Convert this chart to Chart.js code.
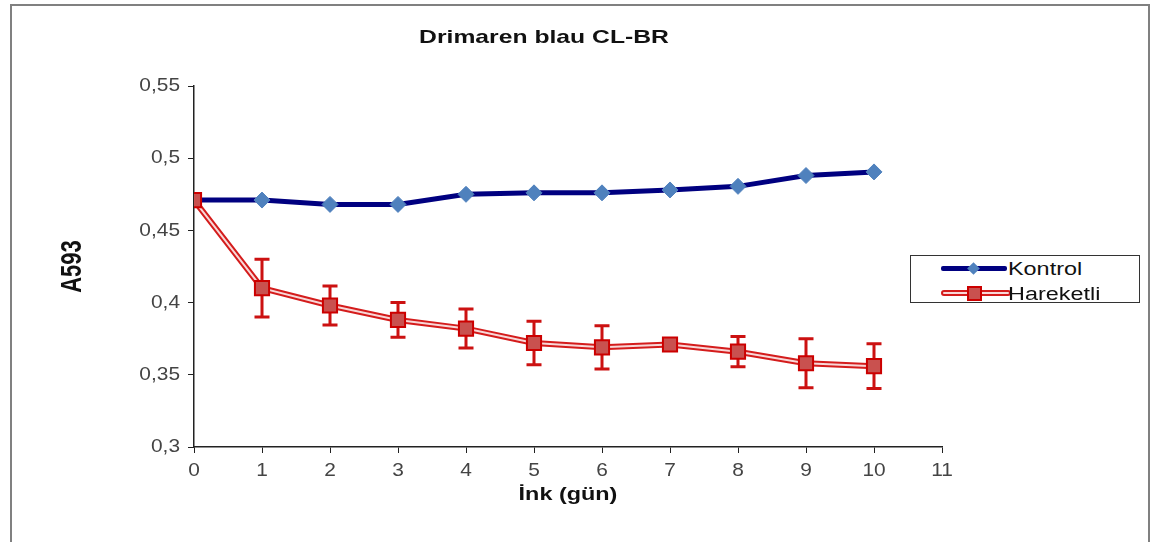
<!DOCTYPE html>
<html>
<head>
<meta charset="utf-8">
<script src="https://cdn.jsdelivr.net/npm/chart.js@4.4.1/dist/chart.umd.min.js"></script>
<style>
  html, body { margin: 0; padding: 0; background: #fff; overflow: hidden; }
  #frame { position: absolute; left: 10px; top: 4px; width: 1136px; height: 600px; border: 2px solid #808080; }
  #wrap { position: absolute; left: 0; top: 0; width: 1154px; height: 542px; }
  #title { position: absolute; left: 344px; width: 400px; top: 26px; text-align: center;
    font: bold 19px "Liberation Sans", Arial, sans-serif; color: #111; transform: scaleX(1.3); }
  #legend { position: absolute; left: 910px; top: 255px; width: 228px; height: 46px; border: 1.5px solid #333; background: #fff; }
  .row { position: absolute; left: 0; width: 100%; height: 24px; }
  .row span { position: absolute; left: 97px; top: 1px; font: 18px "Liberation Sans", Arial, sans-serif; color: #111;
    transform: scaleX(1.3); transform-origin: left center; line-height: 22px; }
  .ln { position: absolute; left: 30px; width: 66px; }
  .k .ln { top: 9px; height: 5px; background: #000080; border-radius: 2px; }
  .k .mk { position: absolute; left: 58px; top: 7px; width: 9px; height: 9px; background: #4f81bd; transform: rotate(45deg); }
  .h .ln { top: 8px; height: 2px; background: #f8d8d8; border: 2px solid #d41c1c; border-radius: 3px; }
  .h .mk { position: absolute; left: 56px; top: 4px; width: 11px; height: 11px; background: #c9514f; border: 2px solid #cc0000; }
</style>
</head>
<body>
<div id="frame"></div>
<div id="wrap"><canvas id="chart" width="1154" height="542"></canvas></div>
<div id="title">Drimaren blau CL-BR</div>
<div id="legend">
  <div class="row k" style="top:1px"><div class="ln"></div><div class="mk"></div><span>Kontrol</span></div>
  <div class="row h" style="top:26px"><div class="ln"></div><div class="mk"></div><span>Hareketli</span></div>
</div>
<script>
// values
const days = [0, 1, 2, 3, 4, 5, 6, 7, 8, 9, 10]
const kontrol = [0.471, 0.471, 0.468, 0.468, 0.475, 0.476, 0.476, 0.478, 0.4805, 0.488, 0.4905]
const hareketli = [0.471, 0.410, 0.398, 0.388, 0.382, 0.372, 0.369, 0.371, 0.366, 0.358, 0.356]
const hareketliErr = [0, 0.020, 0.0135, 0.012, 0.0135, 0.015, 0.015, 0.003, 0.0105, 0.017, 0.0155]
const xTickLabels = ['0', '1', '2', '3', '4', '5', '6', '7', '8', '9', '10', '11']
const yTickLabels = ['0,3', '0,35', '0,4', '0,45', '0,5', '0,55']

const pts = arr => arr.map((v, i) => ({ x: days[i], y: v }))

// the text in the source is drawn wider than normal, stretch canvas text horizontally
const wideText = {
  id: 'wideText',
  beforeDraw(chart) {
    const ctx = chart.ctx
    if (ctx._wide) return
    const fill = ctx.fillText.bind(ctx)
    ctx.fillText = function (t, x, y) {
      const k = ctx.font.indexOf('bold') < 0 ? 1.1 : 1.3
      const m = ctx.getTransform()
      const p = m.transformPoint(new DOMPoint(x, y))
      ctx.setTransform(new DOMMatrix().translate(p.x, p.y).scale(k, 1).translate(-p.x, -p.y).multiply(m))
      fill(t, x, y)
      ctx.setTransform(m)
    }
    ctx._wide = true
  }
}

// vertical error bars for Hareketli, drawn before the square markers
const errorBars = {
  id: 'errorBars',
  afterDatasetDraw(chart, args) {
    if (args.index !== 2) return
    const ctx = chart.ctx
    const xs = chart.scales.x, ys = chart.scales.y
    ctx.save()
    ctx.strokeStyle = '#cc1111'
    ctx.lineWidth = 3
    hareketli.forEach((v, i) => {
      if (!hareketliErr[i]) return
      const x = xs.getPixelForValue(days[i])
      const top = ys.getPixelForValue(v + hareketliErr[i])
      const bot = ys.getPixelForValue(v - hareketliErr[i])
      ctx.beginPath()
      ctx.moveTo(x, top); ctx.lineTo(x, bot)
      ctx.moveTo(x - 7.5, top); ctx.lineTo(x + 7.5, top)
      ctx.moveTo(x - 7.5, bot); ctx.lineTo(x + 7.5, bot)
      ctx.stroke()
    })
    ctx.restore()
  }
}

const ctx = document.getElementById('chart').getContext('2d')
const chart = new Chart(ctx, {
  type: 'line',
  data: {
    datasets: [
      {
        label: 'Kontrol',
        data: pts(kontrol),
        borderColor: '#000080',
        borderWidth: 5,
        pointStyle: 'rectRot',
        pointRadius: 8,
        pointBackgroundColor: '#4f81bd',
        pointBorderColor: '#4f81bd',
        pointBorderWidth: 1,
        order: 4
      },
      {
        label: 'Hareketli',
        data: pts(hareketli),
        borderColor: '#d41c1c',
        borderWidth: 6,
        pointRadius: 0,
        order: 3
      },
      {
        label: 'stripe',
        data: pts(hareketli),
        borderColor: '#f8d8d8',
        borderWidth: 2,
        pointRadius: 0,
        order: 2
      },
      {
        label: 'markers',
        data: pts(hareketli),
        showLine: false,
        pointStyle: 'rect',
        pointRadius: 10,
        pointBackgroundColor: '#c9514f',
        pointBorderColor: '#cc0000',
        pointBorderWidth: 2,
        order: 1
      }
    ]
  },
  options: {
    responsive: false,
    animation: false,
    layout: { padding: { top: 86, right: 212, bottom: 0, left: 0 } },
    elements: { line: { tension: 0 } },
    plugins: {
      legend: { display: false },
      title: { display: false },
      tooltip: { enabled: false }
    },
    scales: {
      x: {
        type: 'linear',
        min: 0,
        max: 11,
        afterFit: s => { s.height = 95 },
        ticks: {
          stepSize: 1,
          padding: 6,
          color: '#444',
          font: { family: '"Liberation Sans", Arial, sans-serif', size: 19 },
          callback: (v, i) => xTickLabels[i]
        },
        grid: { drawOnChartArea: false, drawTicks: true, tickLength: 6, color: '#222' },
        border: { color: '#222', width: 1.5 },
        title: {
          display: true,
          text: 'İnk (gün)',
          color: '#111',
          font: { family: '"Liberation Sans", Arial, sans-serif', size: 18, weight: 'bold' },
          padding: { top: 0, bottom: 36 }
        }
      },
      y: {
        min: 0.3,
        max: 0.55,
        afterFit: s => { s.width = 194 },
        ticks: {
          stepSize: 0.05,
          padding: 8,
          color: '#444',
          font: { family: '"Liberation Sans", Arial, sans-serif', size: 19 },
          callback: (v, i) => yTickLabels[i]
        },
        grid: { drawOnChartArea: false, drawTicks: true, tickLength: 6, color: '#222' },
        border: { color: '#222', width: 1.5 },
        title: {
          display: true,
          text: 'A593',
          color: '#111',
          font: { family: '"Liberation Sans", Arial, sans-serif', size: 22, weight: 'bold' },
          padding: { top: 60, bottom: 0 }
        }
      }
    }
  },
  plugins: [wideText, errorBars]
})
</script>
</body>
</html>
